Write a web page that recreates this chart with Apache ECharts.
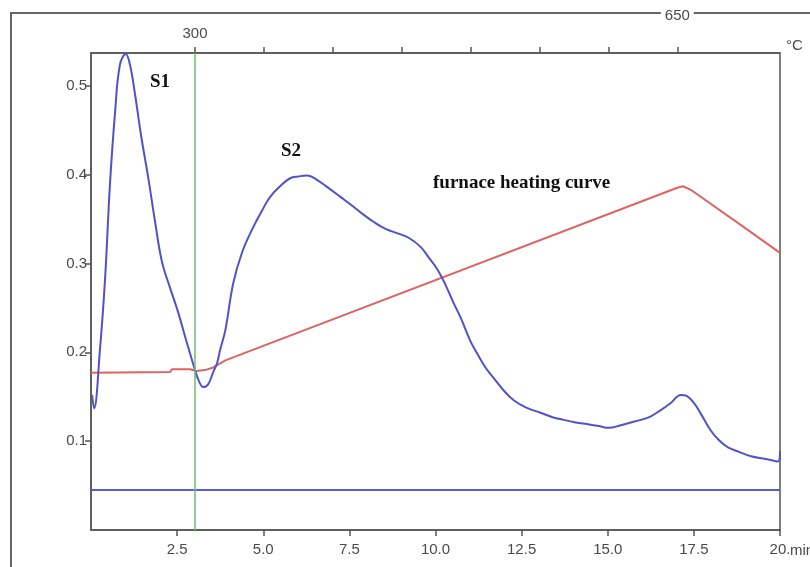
<!DOCTYPE html>
<html>
<head>
<meta charset="utf-8">
<title>Pyrolysis signal</title>
<script src="https://cdn.jsdelivr.net/npm/echarts@6/dist/echarts.min.js"></script>
<style>
  html, body { margin: 0; padding: 0; background: #fff; }
  #chart { width: 810px; height: 567px; }
</style>
</head>
<body>
<div id="chart"></div>
<script>
// Detector signal (time in min, response)
const signalTime = [0.03, 0.09, 0.26, 0.41, 0.55, 0.70, 0.84, 1.01, 1.13, 1.28, 1.45, 1.66, 1.86, 2.06, 2.30, 2.53, 2.76, 3.02, 3.14, 3.26, 3.40, 3.55, 3.66, 3.75, 3.90, 4.13, 4.39, 4.71, 4.97, 5.20, 5.49, 5.78, 6.02, 6.28, 6.57, 6.86, 7.24, 7.62, 7.91, 8.20, 8.55, 8.90, 9.22, 9.56, 9.80, 10.06, 10.29, 10.52, 10.73, 11.02, 11.22, 11.45, 11.69, 11.98, 12.27, 12.62, 13.05, 13.40, 13.72, 14.07, 14.42, 14.74, 15.03, 15.38, 15.67, 15.96, 16.25, 16.54, 16.83, 17.12, 17.29, 17.50, 17.70, 17.99, 18.23, 18.49, 18.81, 19.16, 19.59, 19.94, 20.0];
const signalValue = [0.152, 0.137, 0.203, 0.284, 0.389, 0.471, 0.524, 0.536, 0.524, 0.490, 0.445, 0.397, 0.347, 0.302, 0.272, 0.245, 0.214, 0.180, 0.167, 0.161, 0.164, 0.178, 0.188, 0.203, 0.225, 0.278, 0.313, 0.341, 0.360, 0.375, 0.387, 0.396, 0.398, 0.399, 0.394, 0.386, 0.375, 0.364, 0.355, 0.347, 0.339, 0.334, 0.329, 0.319, 0.307, 0.293, 0.276, 0.256, 0.239, 0.212, 0.198, 0.183, 0.171, 0.157, 0.146, 0.138, 0.132, 0.127, 0.124, 0.121, 0.119, 0.117, 0.115, 0.118, 0.121, 0.124, 0.128, 0.135, 0.143, 0.152, 0.151, 0.143, 0.131, 0.112, 0.101, 0.093, 0.088, 0.083, 0.080, 0.077, 0.089];

// Furnace heating programme, drawn on the signal scale
const furnaceTime = [0, 2.30, 2.35, 2.88, 3.05, 3.31, 3.55, 3.90, 17.00, 17.18, 17.41, 18.95, 20.0];
const furnaceValue = [0.177, 0.178, 0.181, 0.181, 0.179, 0.180, 0.183, 0.191, 0.385, 0.387, 0.383, 0.341, 0.312];

// Baseline level and the 300 °C marker time
const baselineLevel = 0.045;
const markerTime = 3.0;

// Axis ticks
const timeTicks = [2.5, 5.0, 7.5, 10.0, 12.5, 15.0, 17.5, 20.0];
const signalTicks = [0.1, 0.2, 0.3, 0.4, 0.5];
const tempTicks = [300, 350, 400, 450, 500, 550, 600, 650];
const tempLabels = [300, 650];

// Annotation texts
const peakNames = ['S1', 'S2'];
const curveName = 'furnace heating curve';

const zip = (xs, ys) => xs.map((x, i) => [x, ys[i]]);

const axisColor = '#555';
const labelFont = { fontFamily: 'Liberation Sans, Arial, sans-serif', fontSize: 15, color: '#4a4a4a' };
const noteFont = { fontFamily: 'Liberation Serif, Times New Roman, serif', fontSize: 19, fontWeight: 'bold', fill: '#111' };

const chart = echarts.init(document.getElementById('chart'), null, { renderer: 'canvas' });

chart.setOption({
  animation: false,
  backgroundColor: '#fff',
  grid: {
    left: 91, top: 53, right: 30, bottom: 37,
    containLabel: false, outerBoundsMode: 'none',
    show: true, borderColor: axisColor, borderWidth: 1.5, backgroundColor: 'transparent'
  },
  xAxis: [
    {
      type: 'value', position: 'bottom', min: 0, max: 20,
      name: 'min', nameLocation: 'end', nameGap: 10, nameMoveOverlap: false,
      nameTextStyle: Object.assign({}, labelFont, { align: 'left', verticalAlign: 'top', padding: [13, 0, 0, 0] }),
      axisLine: { show: true, lineStyle: { color: axisColor, width: 1.5 } },
      axisTick: { show: true, length: 6, customValues: timeTicks, lineStyle: { color: axisColor, width: 1.5 } },
      axisLabel: Object.assign({}, labelFont, {
        margin: 12, customValues: timeTicks,
        formatter: v => (v === 20 ? '20.' : v.toFixed(1))
      }),
      splitLine: { show: false }
    },
    {
      type: 'value', position: 'top', min: 224.5, max: 724.5,
      name: '°C', nameLocation: 'end', nameGap: 6, nameMoveOverlap: false,
      nameTextStyle: Object.assign({}, labelFont, { verticalAlign: 'bottom', padding: [0, 0, 0, 0] }),
      axisLine: { show: true, lineStyle: { color: axisColor, width: 1.5 } },
      axisTick: { show: true, length: 6, customValues: tempTicks, lineStyle: { color: axisColor, width: 1.5 } },
      axisLabel: Object.assign({}, labelFont, {
        margin: 12, customValues: tempLabels,
        formatter: v => (v === 650 ? '{hi|650}' : String(v)),
        rich: {
          hi: Object.assign({}, labelFont, { backgroundColor: '#fff', padding: [0, 4, 18, 4] })
        }
      }),
      splitLine: { show: false }
    }
  ],
  yAxis: {
    type: 'value', min: 0, max: 0.537,
    axisLine: { show: true, lineStyle: { color: axisColor, width: 1.5 } },
    axisTick: { show: true, length: 6, customValues: signalTicks, lineStyle: { color: axisColor, width: 1.5 } },
    axisLabel: Object.assign({}, labelFont, {
      margin: 4, customValues: signalTicks,
      formatter: v => v.toFixed(1)
    }),
    splitLine: { show: false }
  },
  graphic: [
    {
      type: 'rect', z: -10, silent: true,
      shape: { x: 11, y: 13, width: 900, height: 700 },
      style: { fill: 'none', stroke: '#666', lineWidth: 2 }
    },
    { type: 'text', left: 150, top: 73, style: Object.assign({ text: peakNames[0] }, noteFont) },
    { type: 'text', left: 281, top: 142, style: Object.assign({ text: peakNames[1] }, noteFont) },
    { type: 'text', left: 433, top: 174, style: Object.assign({ text: curveName }, noteFont) }
  ],
  series: [
    {
      name: 'baseline', type: 'line', xAxisIndex: 0, showSymbol: false, silent: true,
      data: [[0, baselineLevel], [20, baselineLevel]],
      lineStyle: { color: '#5a5ad2', width: 2 }
    },
    {
      name: 'furnace', type: 'line', xAxisIndex: 0, showSymbol: false, silent: true,
      data: zip(furnaceTime, furnaceValue),
      lineStyle: { color: '#de6464', width: 2 }
    },
    {
      name: 'signal', type: 'line', xAxisIndex: 0, showSymbol: false, silent: true,
      smooth: 0.4,
      data: zip(signalTime, signalValue),
      lineStyle: { color: '#5252c8', width: 2 },
      markLine: {
        silent: true, symbol: 'none', label: { show: false },
        lineStyle: { color: '#6cbf6c', width: 1.5, type: 'solid' },
        data: [{ xAxis: markerTime }]
      }
    }
  ]
});
</script>
</body>
</html>
